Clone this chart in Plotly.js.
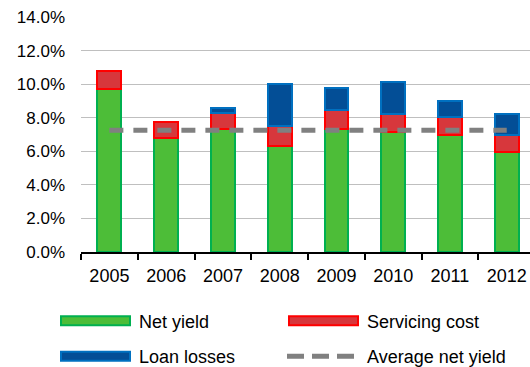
<!DOCTYPE html>
<html>
<head>
<meta charset="utf-8">
<script src="https://cdn.plot.ly/plotly-3.0.1.min.js"></script>
<style>html,body{margin:0;padding:0;background:#fff;} #chart{width:530px;height:367px;}</style>
</head>
<body>
<div id="chart"></div>
<script>
const years = ["2005","2006","2007","2008","2009","2010","2011","2012"];
const netYield = [9.7, 6.8, 7.3, 6.3, 7.3, 7.15, 7.0, 5.95];
const servicingCost = [1.1, 0.95, 1.0, 1.2, 1.15, 1.1, 1.05, 1.05];
const loanLosses = [null, null, 0.3, 2.5, 1.35, 1.85, 0.95, 1.25];
const avgNetYield = [7.25, 7.25, 7.25, 7.25, 7.25, 7.25, 7.25, 7.25];
const seriesNames = ["Net yield", "Servicing cost", "Loan losses", "Average net yield"];
const yTicks = [0, 2, 4, 6, 8, 10, 12, 14];
const yTickText = ["0.0%", "2.0%", "4.0%", "6.0%", "8.0%", "10.0%", "12.0%", "14.0%"];

const W = 530, H = 367;
const mL = 81, mR = 0, mT = 17, mB = 114.5;
const plotW = W - mL - mR, plotH = H - mT - mB;
const px = v => (v - mL) / plotW;
const py = v => (H - mB - v) / plotH;

const FONT = "Liberation Sans, Arial, sans-serif";
const colors = {
  green: {fill: "#4DBD38", line: "#00B050"},
  red: {fill: "#D7373C", line: "#FF0000"},
  blue: {fill: "#034E96", line: "#0070C0"},
  gray: "#808080"
};

const barW = 0.42;
const traces = [
  {type: "bar", x: years, y: netYield, name: seriesNames[0], width: barW,
   marker: {color: colors.green.fill, line: {color: colors.green.line, width: 2}}},
  {type: "bar", x: years, y: servicingCost, name: seriesNames[1], width: barW,
   marker: {color: colors.red.fill, line: {color: colors.red.line, width: 2}}},
  {type: "bar", x: years, y: loanLosses, name: seriesNames[2], width: barW,
   marker: {color: colors.blue.fill, line: {color: colors.blue.line, width: 2}}},
  {type: "scatter", mode: "lines", x: years, y: avgNetYield, name: seriesNames[3],
   line: {color: colors.gray, width: 5, dash: "14px,10px"}}
];

// custom legend
const legendItems = [
  {name: seriesNames[0], kind: "box", c: colors.green, x0: 61, x1: 130, yc: 321.5, tx: 137},
  {name: seriesNames[1], kind: "box", c: colors.red, x0: 289, x1: 358, yc: 321.5, tx: 365},
  {name: seriesNames[2], kind: "box", c: colors.blue, x0: 61, x1: 130, yc: 357, tx: 137},
  {name: seriesNames[3], kind: "dash", c: colors.gray, x0: 287, x1: 354, yc: 357, tx: 365}
];
const shapes = [];
const annotations = [];
legendItems.forEach(it => {
  if (it.kind === "box") {
    shapes.push({type: "rect", xref: "paper", yref: "paper",
      x0: px(it.x0), x1: px(it.x1), y0: py(it.yc - 4.5), y1: py(it.yc + 4.5),
      fillcolor: it.c.fill, line: {color: it.c.line, width: 2}});
  } else {
    shapes.push({type: "line", xref: "paper", yref: "paper",
      x0: px(it.x0), x1: px(it.x1), y0: py(it.yc), y1: py(it.yc),
      line: {color: it.c, width: 5, dash: "17px,8px"}});
  }
  annotations.push({xref: "paper", yref: "paper", x: px(it.tx), y: py(it.yc + 1),
    xanchor: "left", yanchor: "middle", showarrow: false, text: it.name,
    font: {family: FONT, size: 18, color: "#000"}});
});

const layout = {
  width: W, height: H,
  margin: {l: mL, r: mR, t: mT, b: mB, pad: 0},
  paper_bgcolor: "#fff", plot_bgcolor: "#fff",
  barmode: "stack",
  showlegend: false,
  xaxis: {
    type: "category", range: [-0.5, 7.41],
    showline: true, linecolor: "#000", linewidth: 2,
    ticks: "outside", tickson: "boundaries", ticklen: 6, tickwidth: 2, tickcolor: "#000",
    showgrid: false, zeroline: false,
    tickfont: {family: FONT, size: 18, color: "#000"},
    ticklabelstandoff: 6
  },
  yaxis: {
    range: [0, 14], tickmode: "array", tickvals: yTicks, ticktext: yTickText,
    showline: false, zeroline: false,
    showgrid: true, gridcolor: "#BFBFBF", gridwidth: 1,
    tickfont: {family: FONT, size: 17, color: "#000"},
    ticks: "", ticklabelstandoff: 15
  },
  shapes: shapes,
  annotations: annotations,
  font: {family: FONT, color: "#000"}
};

Plotly.newPlot("chart", traces, layout, {displayModeBar: false, staticPlot: true});
</script>
</body>
</html>
